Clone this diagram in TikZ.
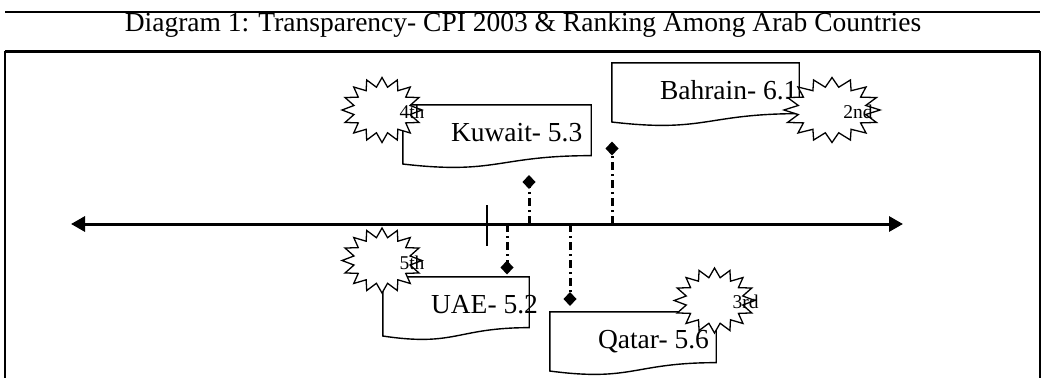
\documentclass[tikz,border=0pt]{standalone}
\usepackage{fontspec}
\setmainfont{Liberation Serif}
\usepackage{tikz}
\usetikzlibrary{arrows.meta, shapes.geometric, calc}

\begin{document}
\begin{tikzpicture}[
    x=1pt, y=-1pt,
    frameline/.style={line width=2pt},
    axisline/.style={{Triangle[length=14pt, width=15pt]}-{Triangle[length=14pt, width=15pt]}, line width=3pt},
    tickline/.style={line width=1.5pt},
    pointer/.style={-{Diamond[length=14pt, width=13pt]}, line width=3pt, dash pattern=on 8pt off 4pt on 2pt off 4pt},
    docbox/.style={rectangle, draw=none, minimum height=63pt, inner sep=0pt},
    docline/.style={line width=1.4pt, line join=miter},
    doctext/.style={inner sep=0pt, anchor=base west, font=\fontsize{27.5}{30}\selectfont},
    rankstar/.style={star, star points=16, star point ratio=1.4, draw, fill=white, line width=1.3pt, minimum size=65pt, inner sep=0pt},
    ranktext/.style={inner sep=0pt, font=\fontsize{19.5}{22}\selectfont}
]
\useasboundingbox (0,0) rectangle (1044,378);

% Frame and title
\coordinate (ftl) at (5,12);
\coordinate (ftr) at (1040,12);
\coordinate (fml) at (5,51);
\coordinate (fmr) at (1040,51);
\coordinate (fbl) at (5,378);
\coordinate (fbr) at (1040,378);
\draw[frameline] (ftl) -- (ftr);
\draw[frameline, line width=3pt] (fml) -- (fmr);
\draw[frameline] (fml) -- (fbl);
\draw[frameline] (fmr) -- (fbr);
\node[inner sep=0pt, anchor=base, font=\fontsize{27.5}{30}\selectfont] (title) at (523,31)
    {Diagram 1: Transparency- CPI 2003 \& Ranking Among Arab Countries};

% Axis
\coordinate (axl) at (71,224);
\coordinate (axr) at (903,224);
\draw[axisline] (axl) -- (axr);
\coordinate (ticktop) at (487,205);
\coordinate (tickbot) at (487,246);
\draw[tickline] (ticktop) -- (tickbot);

% Pointers from the axis
\coordinate (kuwpt) at (529,224);
\coordinate (kuwtip) at (529,175);
\coordinate (bahpt) at (612,224);
\coordinate (bahtip) at (612,141.5);
\coordinate (uaept) at (507,224);
\coordinate (uaetip) at (507,274.5);
\coordinate (qatpt) at (570,224);
\coordinate (qattip) at (570,306);
\draw[pointer] (kuwpt) -- (kuwtip);
\draw[pointer] (bahpt) -- (bahtip);
\draw[pointer] (uaept) -- (uaetip);
\draw[pointer] (qatpt) -- (qattip);

% Document boxes
\node[docbox, minimum width=188pt] (kuw) at (497,136.5) {};
\node[docbox, minimum width=187pt] (bah) at (705.5,94.5) {};
\node[docbox, minimum width=146pt] (uae) at (456,308.5) {};
\node[docbox, minimum width=166pt] (qat) at (633,343.5) {};
\foreach \b in {kuw,bah,uae,qat}
    \draw[docline] (\b.north west) -- (\b.north east)
        -- ($(\b.north east)!0.802!(\b.south east)$)
        .. controls ($(\b.north)!0.802!(\b.south)$) and ($(\b.north)!1.107!(\b.south)$)
        .. ($(\b.north west)!0.934!(\b.south west)$) -- cycle;

\node[doctext] (kuwtxt) at ([xshift=48pt, yshift=-4.5pt]kuw.west) {Kuwait- 5.3};
\node[doctext] (bahtxt) at ([xshift=48pt, yshift=-4.5pt]bah.west) {Bahrain- 6.1};
\node[doctext] (uaetxt) at ([xshift=48pt, yshift=-4.5pt]uae.west) {UAE- 5.2};
\node[doctext] (qattxt) at ([xshift=48pt, yshift=-4.5pt]qat.west) {Qatar- 5.6};

% Rank stars
\node[rankstar, xscale=1.23] (kuwstar) at (382,110) {};
\node[rankstar, xscale=1.48] (bahstar) at (832,110) {};
\node[rankstar, xscale=1.23] (uaestar) at (382,260.5) {};
\node[rankstar, xscale=1.24] (qatstar) at (714.5,300.5) {};

\node[ranktext] (kuwrank) at ([xshift=30pt, yshift=-2pt]kuwstar.center) {4th};
\node[ranktext] (bahrank) at ([xshift=26pt, yshift=-2pt]bahstar.center) {2nd};
\node[ranktext] (uaerank) at ([xshift=30pt, yshift=-2pt]uaestar.center) {5th};
\node[ranktext] (qatrank) at ([xshift=31pt, yshift=-1pt]qatstar.center) {3rd};

\end{tikzpicture}
\end{document}
